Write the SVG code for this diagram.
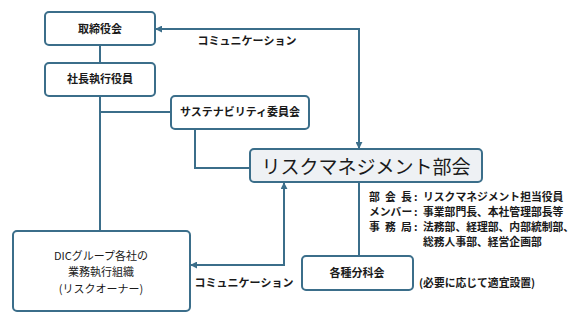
<svg xmlns="http://www.w3.org/2000/svg" width="588" height="331" viewBox="0 0 588 331">
<style>
.box{fill:#fff;stroke:#3b6e8a;stroke-width:2}
.main{fill:#eef1f4;stroke:#3b6e8a;stroke-width:2}
.ln{fill:none;stroke:#3b6e8a;stroke-width:2}
text{font-family:"Noto Sans CJK JP","Noto Sans",sans-serif;fill:#1a1a1a}
.lb{font-size:11px;font-weight:bold;text-anchor:middle}
.nm{font-size:11px;text-anchor:middle}
.t{font-size:10.8px;font-weight:bold}
</style>
<defs>
<marker id="ah" viewBox="0 0 8 8" refX="7" refY="4" markerWidth="7" markerHeight="7" markerUnits="userSpaceOnUse" orient="auto-start-reverse">
<path d="M0 0 L8 4 L0 8 Z" fill="#3b6e8a"/>
</marker>
</defs>
<rect width="588" height="331" fill="#fff"/>
<g id="connectors">
<path class="ln" d="M100 45 V62"/>
<path class="ln" d="M100 96 V231"/>
<path class="ln" d="M100 112 H171"/>
<path class="ln" d="M195 129 V168 H250"/>
<path class="ln" d="M156 29 H359 V148" marker-start="url(#ah)" marker-end="url(#ah)"/>
<path class="ln" d="M284 183 V265 H191" marker-start="url(#ah)" marker-end="url(#ah)"/>
<path class="ln" d="M359 182 V256"/>
<text class="lb" x="247" y="45">コミュニケーション</text>
<text class="lb" x="244" y="287">コミュニケーション</text>
</g>
<g id="board">
<rect class="box" x="45" y="12" width="110" height="33" rx="4"/>
<text class="lb" x="100" y="33">取締役会</text>
</g>
<g id="ceo">
<rect class="box" x="45" y="63" width="110" height="33" rx="4"/>
<text class="lb" x="100" y="83">社長執行役員</text>
</g>
<g id="sustainability">
<rect class="box" x="171" y="96" width="138" height="33" rx="4"/>
<text class="lb" x="240" y="116">サステナビリティ委員会</text>
</g>
<g id="rm">
<rect class="main" x="250" y="149" width="232" height="33" rx="4"/>
<text x="366" y="174" style="font-size:19px;text-anchor:middle">リスクマネジメント部会</text>
</g>
<g id="members">
<text class="t" x="369 385 401" y="201">部会長</text>
<text class="t" x="414" y="201">:</text>
<text class="t" x="423" y="201">リスクマネジメント担当役員</text>
<text class="t" x="369" y="216">メンバー</text>
<text class="t" x="414" y="216">:</text>
<text class="t" x="423" y="216">事業部門長、本社管理部長等</text>
<text class="t" x="369 385 401" y="231">事務局</text>
<text class="t" x="414" y="231">:</text>
<text class="t" x="423" y="231">法務部、経理部、内部統制部、</text>
<text class="t" x="423" y="246">総務人事部、経営企画部</text>
</g>
<g id="dic">
<rect class="box" x="13" y="231" width="177" height="80" rx="4"/>
<text class="nm" x="101" y="260">DICグループ各社の</text>
<text class="nm" x="101" y="276">業務執行組織</text>
<text class="nm" x="101" y="293">(リスクオーナー)</text>
</g>
<g id="subcommittee">
<rect class="box" x="302" y="256" width="111" height="34" rx="4"/>
<text class="lb" x="357" y="277">各種分科会</text>
</g>
<text class="t" x="419" y="287">(必要に応じて適宜設置)</text>
</svg>
